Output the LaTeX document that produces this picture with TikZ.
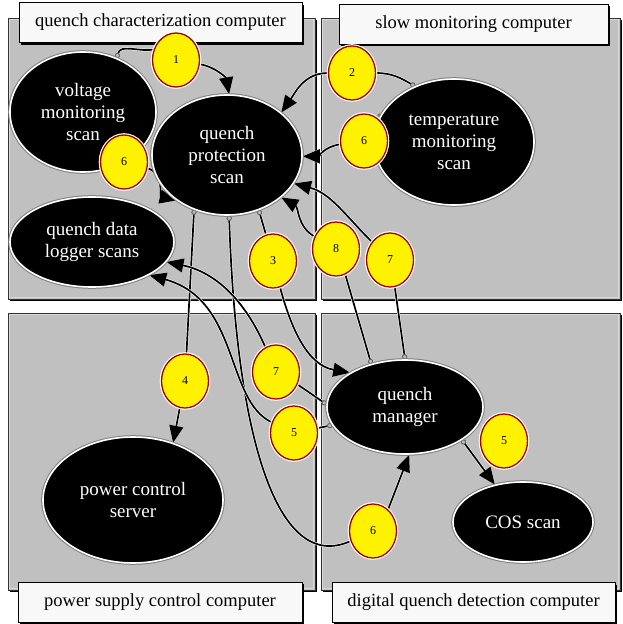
\documentclass[tikz,border=0pt]{standalone}
\usepackage{fontspec}
\setmainfont{Liberation Serif}
\usetikzlibrary{shapes.geometric,arrows.meta,shadows}
\pgfdeclarelayer{panels}
\pgfdeclarelayer{wires}
\pgfsetlayers{panels,wires,main}

\definecolor{panelgray}{HTML}{C0C0C0}
\definecolor{titlefill}{HTML}{F8F8F8}
\definecolor{tagred}{HTML}{A00000}

\begin{document}
\begin{tikzpicture}[x=1pt, y=-1pt,
  proc/.style={ellipse, fill=black, draw=white, line width=1.6pt,
    preaction={draw=black!50, line width=3.6pt},
    text=white, align=center, inner sep=0pt,
    font=\fontsize{19}{22}\selectfont},
  tag/.style={ellipse, fill=yellow, draw=tagred, line width=1.3pt,
    preaction={draw=white, line width=3.6pt},
    minimum width=47pt, minimum height=54pt, inner sep=0pt,
    font=\fontsize{12}{12}\selectfont},
  wire/.style={draw=black, line width=1.7pt,
    preaction={draw=white, line width=2.8pt}},
  port/.style={arrows={{Circle[open,length=5pt,width=5pt,line width=0.7pt,color=black!60]}-}},
  head/.style={arrows={-{Triangle[length=17pt,width=14pt]}}},
  porthead/.style={arrows={{Circle[open,length=5pt,width=5pt,line width=0.7pt,color=black!60]}-{Triangle[length=17pt,width=14pt]}}},
  titlebox/.style={draw=black, line width=0.7pt, fill=titlefill, inner sep=0pt,
    minimum height=40pt, font=\fontsize{18.5}{20}\selectfont,
    drop shadow={shadow xshift=2pt, shadow yshift=-2pt, fill=black, opacity=1}},
]
\useasboundingbox (0,0) rectangle (623,624);

% computers: grey panels with their name plates
\begin{pgfonlayer}{panels}
  \fill[white] (0,0) rectangle (623,624);
  \foreach \xa/\ya/\xb/\yb in {8/18/315/299, 321/18/620/299, 8/313/315/590, 321/313/620/590} {
    \fill[black] (\xa+2,\ya+2) rectangle (\xb+2,\yb+2);
    \filldraw[fill=panelgray, draw=black!80, line width=0.6pt] (\xa,\ya) rectangle (\xb,\yb);
    \draw[white!85!black, line width=0.8pt] (\xa+1.5,\ya+1.5) rectangle (\xb-1.5,\yb-1.5);
  }
  \node[titlebox, minimum width=283pt] (c1) at (160.5,22.5) {quench characterization computer};
  \node[titlebox, minimum width=269pt] (c2) at (473.5,24) {slow monitoring computer};
  \node[titlebox, minimum width=284pt] (c3) at (160,602) {power supply control computer};
  \node[titlebox, minimum width=283pt] (c4) at (473.5,602.5) {digital quench detection computer};
\end{pgfonlayer}

% processes
\node[proc, minimum width=146pt, minimum height=120pt] (vms) at (83,112) {voltage\\monitoring\\scan};
\node[proc, minimum width=150pt, minimum height=120pt] (qps) at (227,155) {quench\\protection\\scan};
\node[proc, minimum width=164pt, minimum height=90pt] (qdl) at (92,242) {quench data\\logger scans};
\node[proc, minimum width=160pt, minimum height=126pt] (tms) at (454,142) {temperature\\monitoring\\scan};
\node[proc, minimum width=156pt, minimum height=94pt] (qm) at (405,407) {quench\\manager};
\node[proc, minimum width=140pt, minimum height=80pt] (cos) at (523,522) {COS scan};
\node[proc, minimum width=180pt, minimum height=126pt] (pcs) at (133,500) {power control\\server};

% numbered message tags
\node[tag] (t1) at (176,60) {1};
\node[tag] (t2) at (352,73) {2};
\node[tag] (t6a) at (124,162) {6};
\node[tag] (t6b) at (364,141) {6};
\node[tag] (t3) at (273,261) {3};
\node[tag] (t8) at (336,249) {8};
\node[tag] (t7a) at (390,260) {7};
\node[tag] (t4) at (185,381) {4};
\node[tag] (t7b) at (276,372) {7};
\node[tag] (t5a) at (294,433) {5};
\node[tag] (t5b) at (504,441) {5};
\node[tag] (t6c) at (373,531) {6};

% messages
\begin{pgfonlayer}{wires}
  \draw[wire, port] (vms.58) to[out=75, in=190] (t1.155);
  \draw[wire, head] (t1) to[out=-10, in=100] (qps.88);
  \draw[wire, port] (tms.125) to[out=150, in=0] (t2);
  \draw[wire, head] (t2) to[out=180, in=55] (qps.38);
  \draw[wire, port] (tms.159) -- (t6b);
  \draw[wire, head] (t6b) to[out=188, in=0] (qps.-1);
  \draw[wire] (vms.-60) -- (t6a);
  \draw[wire, head] (t6a) to[out=-15, in=167] (qps.-138);
  \draw[wire, port] (qps.-60) -- (t3.105);
  \draw[wire, head] (t3) to[out=-75, in=170] (qm.148);
  \draw[wire, port] (qps.-121) -- (t4);
  \draw[wire, head] (t4) -- (pcs.55);
  \draw[wire, port] (qm.128) -- (t8.-70);
  \draw[wire, head] (t8) to[out=150, in=-30] (qps.-38);
  \draw[wire, port] (qm.90) -- (t7a.-80);
  \draw[wire, head] (t7a) to[out=135, in=-15] (qps.-23);
  \draw[wire, port] (qps.-88) .. controls (236,430) and (275,575) .. (t6c);
  \draw[wire, head] (t6c.55) -- (qm.-85);
  \draw[wire, port] (qm.178) -- (t7b.-30);
  \draw[wire, head] (t7b) .. controls (245,300) and (215,272) .. (qdl.-15);
  \draw[wire, port] (qm.-166) -- (t5a);
  \draw[wire, head] (t5a) .. controls (225,400) and (240,300) .. (qdl.-30);
  \draw[wire, porthead] (qm.-30) -- (cos.127);
\end{pgfonlayer}
\end{tikzpicture}
\end{document}
